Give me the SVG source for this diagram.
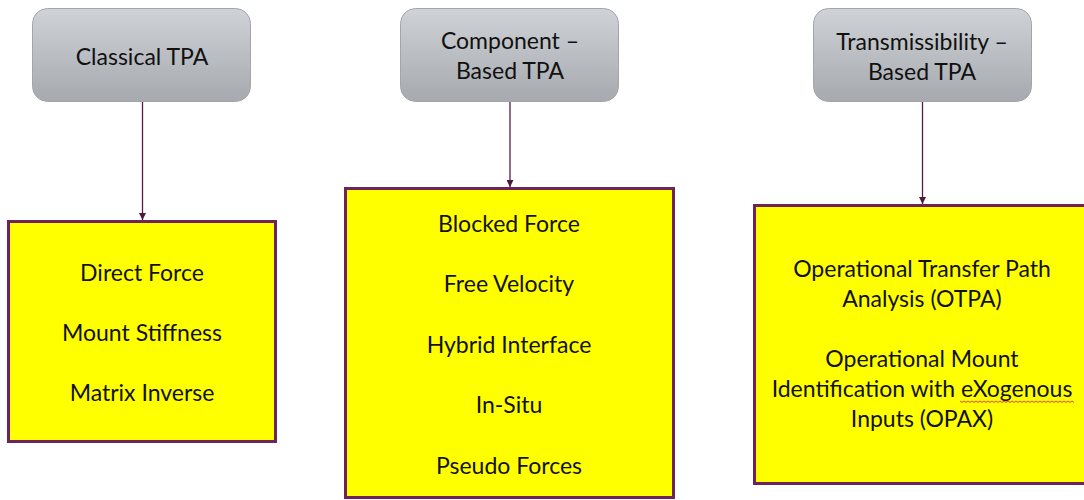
<svg xmlns="http://www.w3.org/2000/svg" width="1084" height="500" viewBox="0 0 1084 500">
  <defs>
    <linearGradient id="gray" x1="0" y1="0" x2="0" y2="1">
      <stop offset="0" stop-color="#cfd2d6"/>
      <stop offset="1" stop-color="#a6aaaf"/>
    </linearGradient>
    <marker id="arr" markerWidth="8" markerHeight="7" refX="7" refY="3.5" orient="auto" markerUnits="userSpaceOnUse">
      <path d="M0,0 L7,3.5 L0,7 Z" fill="#4e1838"/>
    </marker>
    <style>
      .hdr { fill: url(#gray); stroke: #a2a6ab; stroke-width: 1; }
      .box { fill: #ffff00; stroke: #6e2458; stroke-width: 3; }
      .conn { stroke: #5a1c44; stroke-width: 1.3; fill: none; }
      text { font-family: "Lato", "Liberation Sans", sans-serif; fill: #111; text-anchor: middle; }
      .h { font-size: 23px; }
      .t { font-size: 23px; }
      .sq { stroke: #e0403a; stroke-width: 1; fill: none; }
    </style>
  </defs>
  <rect width="1084" height="500" fill="#ffffff"/>

  <g id="connectors">
    <line class="conn" x1="142.5" y1="101" x2="142.5" y2="220" marker-end="url(#arr)"/>
    <line class="conn" x1="510" y1="101" x2="510" y2="187" marker-end="url(#arr)"/>
    <line class="conn" x1="922.5" y1="101" x2="922.5" y2="204" marker-end="url(#arr)"/>
  </g>

  <g id="classical">
    <rect class="hdr" x="32.5" y="8.5" width="218" height="93" rx="15"/>
    <text class="h" x="142" y="65">Classical TPA</text>
  </g>
  <g id="component">
    <rect class="hdr" x="400.5" y="8.5" width="218" height="93" rx="15"/>
    <text class="h" x="510" y="49">Component –</text>
    <text class="h" x="510" y="79">Based TPA</text>
  </g>
  <g id="transmissibility">
    <rect class="hdr" x="813.5" y="8.5" width="218" height="93" rx="15"/>
    <text class="h" x="922" y="50">Transmissibility –</text>
    <text class="h" x="922" y="80">Based TPA</text>
  </g>

  <g id="classical-methods">
    <rect class="box" x="8.5" y="221.5" width="267" height="220"/>
    <text class="t" x="142" y="281">Direct Force</text>
    <text class="t" x="142" y="341">Mount Stiffness</text>
    <text class="t" x="142" y="401">Matrix Inverse</text>
  </g>
  <g id="component-methods">
    <rect class="box" x="345.5" y="188.5" width="328" height="309"/>
    <text class="t" x="509" y="232">Blocked Force</text>
    <text class="t" x="509" y="292">Free Velocity</text>
    <text class="t" x="509" y="353">Hybrid Interface</text>
    <text class="t" x="509" y="413">In-Situ</text>
    <text class="t" x="509" y="474">Pseudo Forces</text>
  </g>
  <g id="transmissibility-methods">
    <rect class="box" x="754.5" y="205.5" width="340" height="278"/>
    <text class="t" x="922" y="277">Operational Transfer Path</text>
    <text class="t" x="922" y="307">Analysis (OTPA)</text>
    <text class="t" x="922" y="367">Operational Mount</text>
    <text class="t" x="922" y="397">Identification with eXogenous</text>
    <text class="t" x="922" y="427">Inputs (OPAX)</text>
    <path class="sq" d="M960,401 l2,1.5 l2,-1.5 l2,1.5 l2,-1.5 l2,1.5 l2,-1.5 l2,1.5 l2,-1.5 l2,1.5 l2,-1.5 l2,1.5 l2,-1.5 l2,1.5 l2,-1.5 l2,1.5 l2,-1.5 l2,1.5 l2,-1.5 l2,1.5 l2,-1.5 l2,1.5 l2,-1.5 l2,1.5 l2,-1.5 l2,1.5 l2,-1.5 l2,1.5 l2,-1.5 l2,1.5 l2,-1.5 l2,1.5 l2,-1.5 l2,1.5 l2,-1.5 l2,1.5 l2,-1.5 l2,1.5 l2,-1.5 l2,1.5 l2,-1.5 l2,1.5 l2,-1.5 l2,1.5 l2,-1.5 l2,1.5 l2,-1.5 l2,1.5 l2,-1.5 l2,1.5 l2,-1.5 l2,1.5 l2,-1.5 l2,1.5 l2,-1.5 l2,1.5 l2,-1.5 l2,1.5"/>
  </g>
</svg>
